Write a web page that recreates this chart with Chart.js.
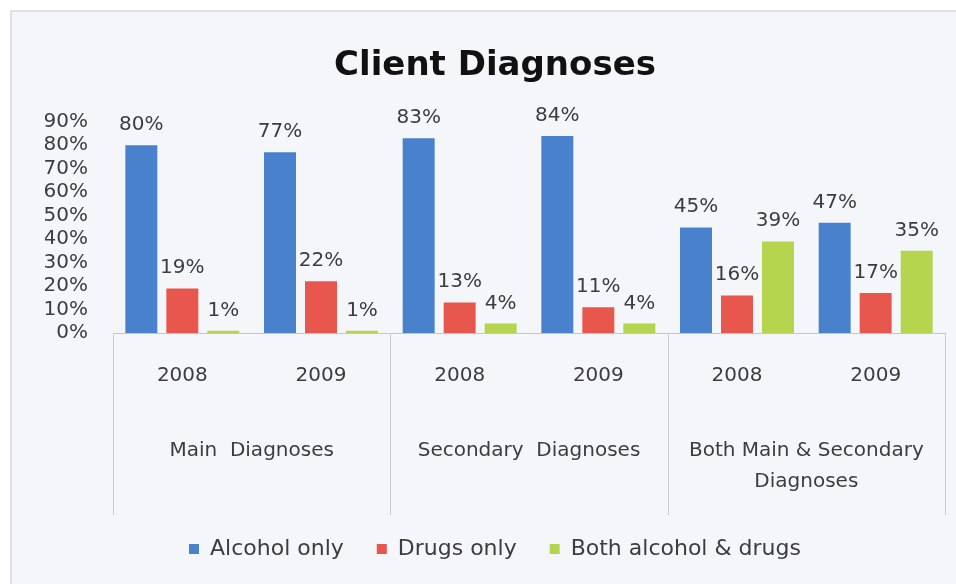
<!DOCTYPE html>
<html>
<head>
<meta charset="utf-8">
<script src="https://cdn.jsdelivr.net/npm/chart.js@4/dist/chart.umd.min.js"></script>
<style>
  body { margin: 0; background: #fff; }
  #frame { position: absolute; left: 10px; top: 10px; width: 946px; height: 574px;
           background: #f4f6f9; border-left: 2px solid #dfe1e5; border-top: 2px solid #dfe1e5; box-sizing: border-box; }
  #Diagnoses { position: absolute; left: 0; top: 0; }
</style>
</head>
<body>
<div id="frame"></div>
<canvas id="Diagnoses" width="956" height="584"></canvas>
<script>
var years = ["2008", "2009", "2008", "2009", "2008", "2009"];
var groups = ["Main  Diagnoses", "Secondary  Diagnoses", ["Both Main & Secondary", "Diagnoses"]];
var alcoholOnly = [80, 77, 83, 84, 45, 47];
var drugsOnly = [19, 22, 13, 11, 16, 17];
var bothAlcoholDrugs = [1, 1, 4, 4, 39, 35];
var yMax = 90;

var textColor = "#3d3d3d";
var fontName = "DejaVu Sans";

// value labels above each bar
var barLabels = {
  id: "barLabels",
  afterDatasetsDraw: function(chart) {
    var ctx = chart.ctx;
    ctx.save();
    ctx.font = "20px '" + fontName + "'";
    ctx.fillStyle = textColor;
    ctx.textAlign = "center";
    ctx.textBaseline = "alphabetic";
    chart.data.datasets.forEach(function(ds, i) {
      chart.getDatasetMeta(i).data.forEach(function(bar, j) {
        ctx.fillText(ds.data[j] + "%", bar.x, bar.y - 15);
      });
    });
    ctx.restore();
  }
};

// vertical separators between the diagnosis groups
var groupLines = {
  id: "groupLines",
  afterDraw: function(chart) {
    var x = chart.scales.x, x2 = chart.scales.x2, ctx = chart.ctx;
    var step = x.width / years.length;
    ctx.save();
    ctx.strokeStyle = "#c9ccd1";
    ctx.lineWidth = 1;
    for (var i = 0; i <= years.length; i += 2) {
      var px = Math.round(x.left + step * i) + 0.5;
      ctx.beginPath();
      ctx.moveTo(px, x.top);
      ctx.lineTo(px, x2.bottom + 10);
      ctx.stroke();
    }
    ctx.restore();
  }
};

new Chart(document.getElementById("Diagnoses"), {
  type: "bar",
  data: {
    labels: years,
    datasets: [
      {label: "Alcohol only", data: alcoholOnly, backgroundColor: "#4a81cd"},
      {label: "Drugs only", data: drugsOnly, backgroundColor: "#e8574e"},
      {label: "Both alcohol & drugs", data: bothAlcoholDrugs, backgroundColor: "#b5d54f"}
    ]
  },
  options: {
    responsive: false,
    animation: false,
    layout: {padding: {left: 45, right: 11, top: 11, bottom: 14}},
    datasets: {bar: {categoryPercentage: 0.887, barPercentage: 0.78}},
    plugins: {
      title: {
        display: true,
        text: "Client Diagnoses",
        color: "#111",
        font: {family: fontName, size: 34, weight: "bold"},
        padding: {top: 35, bottom: 35}
      },
      legend: {
        position: "bottom",
        labels: {
          color: textColor,
          font: {family: fontName, size: 22},
          boxWidth: 10, boxHeight: 10,
          padding: 33
        }
      },
      tooltip: {enabled: false}
    },
    scales: {
      y: {
        min: 0, max: yMax,
        grid: {display: false, drawTicks: false},
        border: {display: false},
        afterFit: function(s) { s.width = 68; },
        ticks: {
          stepSize: 10,
          autoSkip: false,
          padding: 25,
          color: textColor,
          font: {family: fontName, size: 20, lineHeight: 1},
          callback: function(v) { return v + "%"; }
        }
      },
      x: {
        grid: {display: false, drawTicks: false},
        border: {display: true, color: "#c3c7cc"},
        afterFit: function(s) { s.height = 80; },
        ticks: {
          padding: 31,
          maxRotation: 0,
          color: textColor,
          font: {family: fontName, size: 20}
        }
      },
      x2: {
        type: "category",
        labels: groups,
        position: "bottom",
        grid: {display: false, drawTicks: false},
        border: {display: false},
        afterFit: function(s) { s.height = 92; },
        ticks: {
          padding: 22,
          maxRotation: 0,
          autoSkip: false,
          color: textColor,
          font: {family: fontName, size: 20, lineHeight: 1.55}
        }
      }
    }
  },
  plugins: [barLabels, groupLines]
});
</script>
</body>
</html>
